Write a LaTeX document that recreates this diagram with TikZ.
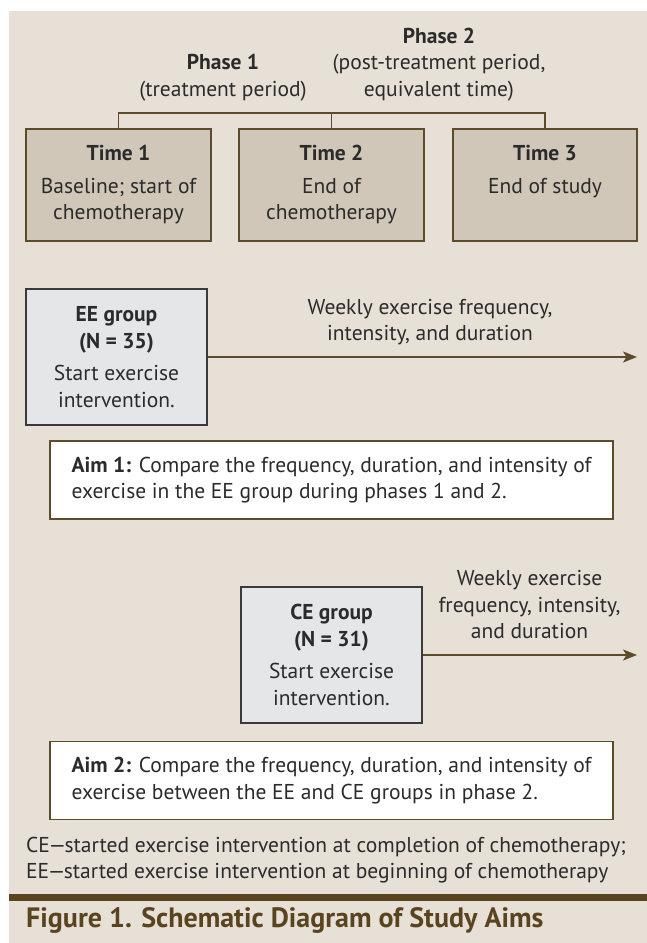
\documentclass[tikz,border=0pt]{standalone}
\usepackage{fontspec}
\setmainfont{PT Sans}
\usetikzlibrary{arrows.meta}
\definecolor{bgc}{HTML}{E6E0D6}
\definecolor{timefill}{HTML}{D0C7B8}
\definecolor{brownline}{HTML}{5E4B2A}
\definecolor{grpfill}{HTML}{E5E6E8}
\definecolor{grpline}{HTML}{3A3A3A}
\definecolor{textc}{HTML}{2B2B2B}
\definecolor{capc}{HTML}{5A4420}
\begin{document}
\begin{tikzpicture}[x=1pt,y=-1pt,
  txt/.style={text=textc, font=\fontsize{21.5}{26.5}\selectfont, inner sep=0pt, align=center},
  timebox/.style={txt, draw=brownline, line width=1.5pt, fill=timefill, minimum width=185pt, minimum height=112pt},
  grpbox/.style={txt, draw=grpline, line width=1.2pt, fill=grpfill, minimum width=181pt, minimum height=136pt},
  aimbox/.style={txt, align=left, draw=brownline, line width=1.4pt, fill=white, minimum width=563pt, minimum height=78pt},
  bracket/.style={draw=brownline, line width=1.3pt},
  arr/.style={draw=brownline, line width=1.5pt, -{Stealth[length=14pt,width=11pt,inset=3.5pt]}}]
\useasboundingbox (0,0) rectangle (647,943);
\fill[bgc] (9,11) rectangle (647,943);

% phase labels
\node[txt] (ph1) at (223,77.5) {\textbf{Phase 1}\\(treatment period)};
\node[txt] (ph2) at (439,64.5) {\textbf{Phase 2}\\(post-treatment period,\\equivalent time)};

% time boxes
\node[timebox] (t1) at (118.5,185) {\textbf{Time 1}\\[6pt]Baseline; start of\\chemotherapy};
\node[timebox] (t2) at (331.5,185) {\textbf{Time 2}\\[6pt]End of\\chemotherapy};
\node[timebox, minimum width=184pt] (t3) at (545,185) {\textbf{Time 3}\\[6pt]End of study\\\vphantom{chemotherapy}};

\coordinate (br) at (331.5,113);
\draw[bracket] (t1.north) |- (br) -| (t3.north);
\draw[bracket] (t2.north) -- (br);

% EE group
\node[grpbox] (ee) at (116.5,357) {\textbf{EE group}\\\textbf{(N = 35)}\\[6pt]Start exercise\\intervention.};
\coordinate (eeend) at (637,357);
\draw[arr] (ee.east) -- (eeend);
\node[txt] (eelab) at (430,322) {Weekly exercise frequency,\\intensity, and duration};

% Aim 1
\node[aimbox] (aim1) at (331.5,480) {\textbf{Aim 1:} Compare the frequency, duration, and intensity of\\exercise in the EE group during phases 1 and 2.};

% CE group
\node[grpbox] (ce) at (331.5,655) {\textbf{CE group}\\\textbf{(N = 31)}\\[6pt]Start exercise\\intervention.};
\coordinate (ceend) at (637,655);
\draw[arr] (ce.east) -- (ceend);
\node[txt] (celab) at (529.5,605) {Weekly exercise\\frequency, intensity,\\and duration};

% Aim 2
\node[aimbox] (aim2) at (331.5,780.5) {\textbf{Aim 2:} Compare the frequency, duration, and intensity of\\exercise between the EE and CE groups in phase 2.};

% footnote
\node[txt, align=left, anchor=west] (fn) at (26,860) {CE\kern-1.5pt—\kern-1.5pt started exercise intervention at completion of chemotherapy;\\EE\kern-1.5pt—\kern-1.5pt started exercise intervention at beginning of chemotherapy};

% rule and caption
\fill[capc] (9,894) rectangle (647,901);
\node[anchor=base west, inner sep=0pt, text=capc, font=\fontsize{28}{30}\selectfont\bfseries] (cap) at (26,927) {Figure 1. Schematic Diagram of Study Aims};
\end{tikzpicture}
\end{document}
